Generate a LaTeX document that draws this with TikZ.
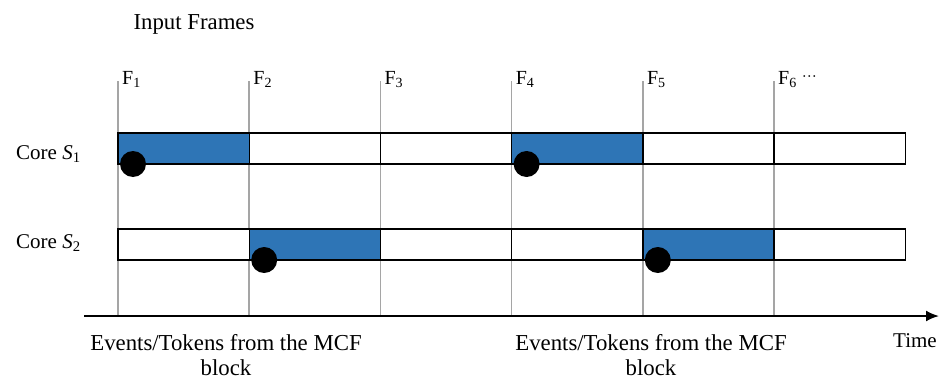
\documentclass[tikz,border=0pt]{standalone}
\usepackage{fontspec}
\setmainfont{Liberation Serif}
\usetikzlibrary{arrows.meta}
\definecolor{slotblue}{RGB}{46,117,182}
\definecolor{framegray}{RGB}{165,165,165}
\begin{document}
\begin{tikzpicture}[x=1pt,y=-1pt,
  frameline/.style={draw=framegray, line width=1.6pt},
  cell/.style={draw=black, line width=1.4pt, fill=white, minimum width=131.2pt,
    minimum height=31pt, inner sep=0pt, outer sep=0pt, anchor=north west},
  busy/.style={cell, fill=slotblue},
  token/.style={circle, fill=black, minimum size=26pt, inner sep=0pt},
  txt/.style={font=\fontsize{21}{24}\selectfont, inner sep=0pt},
  bigtxt/.style={font=\fontsize{22.8}{25}\selectfont, inner sep=0pt},
  flabel/.style={font=\fontsize{20}{22}\selectfont, inner sep=0pt, anchor=base west},
]
\useasboundingbox (0,0) rectangle (940,380);

% frame boundaries
\foreach \i in {1,...,6} {
  \coordinate (t\i) at ({118+131.2*(\i-1)},81);
  \coordinate (b\i) at ({118+131.2*(\i-1)},316);
  \draw[frameline] (t\i) -- (b\i);
}

% frame labels
\node[flabel] (f1) at ([xshift=4pt,yshift=-3pt]t1) {F\textsubscript{1}};
\node[flabel] (f2) at ([xshift=4pt,yshift=-3pt]t2) {F\textsubscript{2}};
\node[flabel] (f3) at ([xshift=4pt,yshift=-3pt]t3) {F\textsubscript{3}};
\node[flabel] (f4) at ([xshift=4pt,yshift=-3pt]t4) {F\textsubscript{4}};
\node[flabel] (f5) at ([xshift=4pt,yshift=-3pt]t5) {F\textsubscript{5}};
\node[flabel] (f6) at ([xshift=4pt,yshift=-3pt]t6) {F\textsubscript{6} \raisebox{0.25ex}{\fontsize{15}{15}\selectfont ···}};

\node[bigtxt, anchor=base] (title) at (194,29) {Input Frames};

% core rows
\foreach \i in {1,...,6} {
  \pgfmathsetmacro{\xx}{118+131.2*(\i-1)}
  \node[cell] (r1c\i) at (\xx,133) {};
  \node[cell] (r2c\i) at (\xx,229) {};
}
\node[busy] (r1c1) at (t1 |- r1c1.north west) {};
\node[busy] (r1c4) at (t4 |- r1c4.north west) {};
\node[busy] (r2c2) at (t2 |- r2c2.north west) {};
\node[busy] (r2c5) at (t5 |- r2c5.north west) {};

\node[txt, anchor=base west] (core1) at (16,159) {Core \textit{S}\textsubscript{1}};
\node[txt, anchor=base west] (core2) at (16,248) {Core \textit{S}\textsubscript{2}};

% tokens arriving from the MCF block
\node[token] (k1) at ([xshift=15pt]r1c1.south west) {};
\node[token] (k2) at ([xshift=15pt]r2c2.south west) {};
\node[token] (k4) at ([xshift=15pt]r1c4.south west) {};
\node[token] (k5) at ([xshift=15pt]r2c5.south west) {};

% time axis
\coordinate (ax0) at (84,316);
\coordinate (ax1) at (939,316);
\draw[line width=2pt, -{Latex[length=13pt,width=11pt]}] (ax0) -- (ax1);
\node[txt, anchor=base west] (time) at (893,347) {Time};

\node[bigtxt, align=center, anchor=base] (ev1) at (226,375) {Events/Tokens from the MCF\\block};
\node[bigtxt, align=center, anchor=base] (ev2) at (651,375) {Events/Tokens from the MCF\\block};
\end{tikzpicture}
\end{document}
